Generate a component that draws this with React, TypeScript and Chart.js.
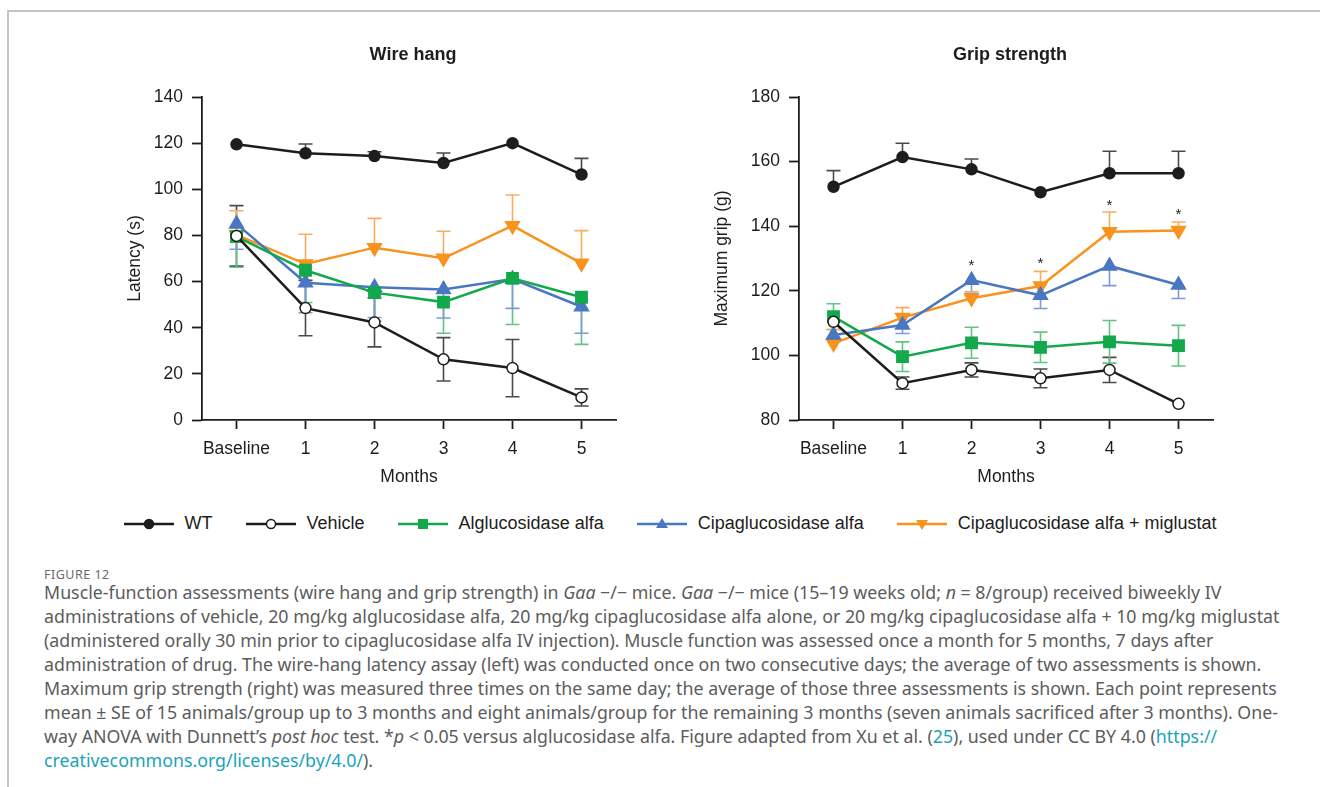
import React, { useEffect, useRef } from "react";
import { Chart, registerables } from "chart.js";
Chart.register(...registerables);

// ---------- data ----------
const months = ["Baseline", "1", "2", "3", "4", "5"];
const seriesNames = ["WT", "Vehicle", "Alglucosidase alfa", "Cipaglucosidase alfa", "Cipaglucosidase alfa + miglustat"];

const wireTicks = [0, 20, 40, 60, 80, 100, 120, 140];
const gripTicks = [80, 100, 120, 140, 160, 180];

// Wire hang latency (s), mean and SE
const wireWT = [119.5, 115.6, 114.4, 111.4, 120.0, 106.4];
const wireWTErr = [0, 4.0, 1.9, 4.3, 0, 7.0];
const wireVehicle = [79.8, 48.5, 42.3, 26.3, 22.5, 9.8];
const wireVehicleErr = [13.1, 12.0, 10.6, 9.4, 12.4, 3.7];
const wireAlglu = [79.5, 64.9, 55.2, 51.1, 61.4, 53.2];
const wireAlgluErr = [13.3, 14.0, 12.3, 13.5, 20.0, 20.4];
const wireCipa = [85.0, 59.5, 57.5, 56.6, 61.1, 49.1];
const wireCipaErr = [11.0, 13.0, 13.1, 12.4, 12.7, 11.5];
const wireCipaMig = [80.2, 67.6, 74.7, 70.1, 84.2, 67.9];
const wireCipaMigErr = [10.5, 12.9, 12.7, 11.7, 13.3, 14.2];

// Grip strength (g), mean and SE
const gripWT = [152.2, 161.4, 157.6, 150.5, 156.4, 156.4];
const gripWTErr = [5.0, 4.3, 3.2, 0, 6.8, 6.8];
const gripVehicle = [110.4, 91.4, 95.5, 92.9, 95.5, 85.0];
const gripVehicleErr = [0, 1.9, 2.2, 2.9, 3.9, 0];
const gripAlglu = [112.0, 99.6, 103.9, 102.5, 104.2, 103.0];
const gripAlgluErr = [4.0, 4.6, 4.8, 4.7, 6.6, 6.3];
const gripCipa = [106.3, 109.4, 123.3, 118.6, 127.7, 121.8];
const gripCipaErr = [1.5, 2.6, 4.1, 4.1, 6.1, 4.2];
const gripCipaMig = [103.7, 111.7, 117.7, 121.5, 138.3, 138.7];
const gripCipaMigErr = [4.3, 3.1, 2.0, 4.5, 6.1, 2.6];
const gripStars = [null, null, 128.7, 129.2, 147.3, 144.5];

// ---------- styles ----------
const FONT = "'Liberation Sans', Arial, sans-serif";
const INK = "#1d1d1b";
const AX_FONT = 17.5;
const STYLES = [
  { color: INK, err: "#4a4a4a", point: "circle", fill: INK, radius: 5.5, rotation: 0 },
  { color: INK, err: "#4a4a4a", point: "circle", fill: "#ffffff", radius: 5.5, rotation: 0 },
  { color: "#13a84b", err: "#62c585", point: "rect", fill: "#13a84b", radius: 8, rotation: 0 },
  { color: "#4a77c1", err: "#7b9bd6", point: "triangle", fill: "#4a77c1", radius: 8, rotation: 0 },
  { color: "#f7931e", err: "#f9ad5c", point: "triangle", fill: "#f7931e", radius: 8, rotation: 180 },
];

const errorBarPlugin = {
  id: "errorBars",
  beforeDatasetsDraw(chart: any) {
    const ctx = chart.ctx;
    const ys = chart.scales.y;
    chart.data.datasets.forEach((ds: any, di: number) => {
      if (!ds.errors) return;
      const meta = chart.getDatasetMeta(di);
      ctx.save();
      ctx.strokeStyle = ds.errorColor;
      ctx.lineWidth = 1.6;
      meta.data.forEach((pt: any, i: number) => {
        const v = ds.data[i];
        const e = ds.errors[i];
        if (v == null || !e) return;
        const x = pt.x;
        const y0 = ys.getPixelForValue(v);
        const ends: number[] = [];
        if (ds.errorDir !== "down") ends.push(ys.getPixelForValue(v + e));
        if (ds.errorDir !== "up") ends.push(ys.getPixelForValue(v - e));
        ends.forEach((ye) => {
          ctx.beginPath();
          ctx.moveTo(x, y0);
          ctx.lineTo(x, ye);
          ctx.moveTo(x - 7, ye);
          ctx.lineTo(x + 7, ye);
          ctx.stroke();
        });
      });
      ctx.restore();
    });
  },
};

const extrasPlugin = {
  id: "extras",
  afterDraw(chart: any, _args: any, opts: any) {
    const ctx = chart.ctx;
    const ca = chart.chartArea;
    ctx.save();
    if (opts.title) {
      ctx.fillStyle = INK;
      ctx.font = `bold 18px ${FONT}`;
      ctx.textAlign = "center";
      ctx.textBaseline = "middle";
      ctx.fillText(opts.title, (ca.left + ca.right) / 2 + (opts.titleDx || 0), opts.titleY);
    }
    if (opts.stars) {
      const xs = chart.scales.x;
      const ys = chart.scales.y;
      ctx.fillStyle = INK;
      ctx.font = `15px ${FONT}`;
      ctx.textAlign = "center";
      ctx.textBaseline = "middle";
      opts.stars.forEach((s: number | null, i: number) => {
        if (s == null) return;
        ctx.fillText("*", xs.getPixelForValue(i), ys.getPixelForValue(s) + 3);
      });
    }
    ctx.restore();
  },
};

function makeDatasets(values: number[][], errors: number[][], dirs: string[]) {
  return values.map((vals, i) => {
    const st = STYLES[i];
    return {
      label: seriesNames[i],
      data: vals,
      errors: errors[i],
      errorDir: dirs[i],
      errorColor: st.err,
      borderColor: st.color,
      borderWidth: 2.5,
      backgroundColor: st.fill,
      pointStyle: st.point,
      pointRadius: st.radius,
      pointRotation: st.rotation,
      pointBackgroundColor: st.fill,
      pointBorderColor: st.color,
      pointBorderWidth: 1.5,
      tension: 0,
      fill: false,
    };
  });
}

function buildConfig(p: any) {
  return {
    type: "line",
    data: { labels: months, datasets: p.datasets },
    plugins: [errorBarPlugin, extrasPlugin],
    options: {
      responsive: false,
      animation: false,
      devicePixelRatio: 1,
      events: [],
      layout: { padding: { top: 97, left: 0, right: p.padRight, bottom: 0 } },
      plugins: {
        legend: { display: false },
        tooltip: { enabled: false },
        title: { display: false },
        extras: { title: p.title, titleY: 55, titleDx: 4, stars: p.stars },
      },
      scales: {
        x: {
          type: "category",
          offset: true,
          grid: { display: true, offset: false, drawOnChartArea: false, drawTicks: true, tickLength: 9, tickWidth: 1.8, tickColor: INK },
          border: { display: true, color: INK, width: 1.8 },
          ticks: { color: INK, font: { family: FONT, size: AX_FONT }, padding: 10, maxRotation: 0, autoSkip: false },
          title: { display: true, text: "Months", color: INK, font: { family: FONT, size: AX_FONT }, padding: { top: 0, bottom: 12.5 } },
          afterFit: (s: any) => { s.height = 80; },
        },
        y: {
          min: p.ticks[0],
          max: p.ticks[p.ticks.length - 1],
          afterBuildTicks: (s: any) => { s.ticks = p.ticks.map((v: number) => ({ value: v })); },
          grid: { display: true, drawOnChartArea: false, drawTicks: true, tickLength: 10, tickWidth: 1.8, tickColor: INK },
          border: { display: true, color: INK, width: 1.8 },
          ticks: { color: INK, font: { family: FONT, size: AX_FONT }, padding: 9 },
          title: { display: true, text: p.yTitle, color: INK, font: { family: FONT, size: AX_FONT }, padding: { top: p.yTitlePad, bottom: 0 } },
          afterFit: (s: any) => { s.width = p.yWidth; },
        },
      },
    },
  };
}

function ChartCanvas(props: { config: any; left: number; width: number; height: number }) {
  const ref = useRef<HTMLCanvasElement | null>(null);
  useEffect(() => {
    if (!ref.current) return;
    const chart = new Chart(ref.current, props.config);
    return () => chart.destroy();
  }, []);
  return (
    <canvas
      ref={ref}
      width={props.width}
      height={props.height}
      style={{ position: "absolute", left: props.left, top: 0, width: props.width, height: props.height }}
    />
  );
}

function LegendIcon({ i }: { i: number }) {
  const st = STYLES[i];
  const c = 25, cy = 8;
  let marker: any;
  if (st.point === "circle") marker = <circle cx={c} cy={cy} r={4.5} fill={st.fill} stroke={st.color} strokeWidth={1.5} />;
  else if (st.point === "rect") marker = <rect x={c - 5} y={cy - 5} width={10} height={10} fill={st.fill} />;
  else if (st.rotation === 180) marker = <polygon points={`${c - 6},${cy - 4} ${c + 6},${cy - 4} ${c},${cy + 6}`} fill={st.fill} />;
  else marker = <polygon points={`${c - 6},${cy + 4} ${c + 6},${cy + 4} ${c},${cy - 6}`} fill={st.fill} />;
  return (
    <svg width={50} height={16} style={{ display: "block" }}>
      <line x1={0} y1={cy} x2={50} y2={cy} stroke={st.color} strokeWidth={2.4} />
      {marker}
    </svg>
  );
}

const linkColor = "#1aa3b8";

export default function App() {
  const wireCfg = buildConfig({
    datasets: makeDatasets(
      [wireWT, wireVehicle, wireAlglu, wireCipa, wireCipaMig],
      [wireWTErr, wireVehicleErr, wireAlgluErr, wireCipaErr, wireCipaMigErr],
      ["up", "both", "down", "down", "up"]
    ),
    ticks: wireTicks,
    yTitle: "Latency (s)",
    yTitlePad: 124.5,
    yWidth: 202,
    padRight: 24,
    title: "Wire hang",
    stars: null,
  });
  const gripCfg = buildConfig({
    datasets: makeDatasets(
      [gripWT, gripVehicle, gripAlglu, gripCipa, gripCipaMig],
      [gripWTErr, gripVehicleErr, gripAlgluErr, gripCipaErr, gripCipaMigErr],
      ["up", "both", "both", "down", "up"]
    ),
    ticks: gripTicks,
    yTitle: "Maximum grip (g)",
    yTitlePad: 71.5,
    yWidth: 159,
    padRight: 87,
    title: "Grip strength",
    stars: gripStars,
  });

  const capStyle: any = {
    position: "absolute", left: 44, whiteSpace: "nowrap", fontFamily: "'Noto Sans', 'Open Sans', sans-serif",
    fontSize: 17.8, color: "#5c5c5c", lineHeight: "24px",
  };

  return (
    <div style={{ position: "absolute", left: 0, top: 0, width: 1320, height: 787, background: "#fff", overflow: "hidden" }}>
      <div style={{ position: "absolute", left: 7, top: 10, right: 0, bottom: 0, borderTop: "2px solid #c4c4c4", borderLeft: "2px solid #c4c4c4" }} />
      <ChartCanvas config={wireCfg} left={0} width={640} height={500} />
      <ChartCanvas config={gripCfg} left={640} width={660} height={500} />

      <div style={{ position: "absolute", left: 10, top: 513, width: 1320, display: "flex", justifyContent: "center", alignItems: "center", fontFamily: FONT, fontSize: 18, color: INK }}>
        {seriesNames.map((n, i) => (
          <div key={n} style={{ display: "flex", alignItems: "center", marginLeft: i === 0 ? 0 : 33 }}>
            <LegendIcon i={i} />
            <span style={{ marginLeft: 11 }}>{n}</span>
          </div>
        ))}
      </div>

      <div style={{ ...capStyle, top: 563, fontSize: 12.5, letterSpacing: 0.5, color: "#6a6a6a" }}>FIGURE 12</div>
      <div style={{ ...capStyle, top: 580 }}>
        <div>Muscle-function assessments (wire hang and grip strength) in <i>Gaa</i> −/− mice. <i>Gaa</i> −/− mice (15–19 weeks old; <i>n</i> = 8/group) received biweekly IV</div>
        <div>administrations of vehicle, 20 mg/kg alglucosidase alfa, 20 mg/kg cipaglucosidase alfa alone, or 20 mg/kg cipaglucosidase alfa + 10 mg/kg miglustat</div>
        <div>(administered orally 30 min prior to cipaglucosidase alfa IV injection). Muscle function was assessed once a month for 5 months, 7 days after</div>
        <div>administration of drug. The wire-hang latency assay (left) was conducted once on two consecutive days; the average of two assessments is shown.</div>
        <div>Maximum grip strength (right) was measured three times on the same day; the average of those three assessments is shown. Each point represents</div>
        <div>mean ± SE of 15 animals/group up to 3 months and eight animals/group for the remaining 3 months (seven animals sacrificed after 3 months). One-</div>
        <div>way ANOVA with Dunnett’s <i>post hoc</i> test. *<i>p</i> &lt; 0.05 versus alglucosidase alfa. Figure adapted from Xu et al. (<span style={{ color: linkColor }}>25</span>), used under CC BY 4.0 (<span style={{ color: linkColor }}>https://</span></div>
        <div><span style={{ color: linkColor }}>creativecommons.org/licenses/by/4.0/</span>).</div>
      </div>
    </div>
  );
}
